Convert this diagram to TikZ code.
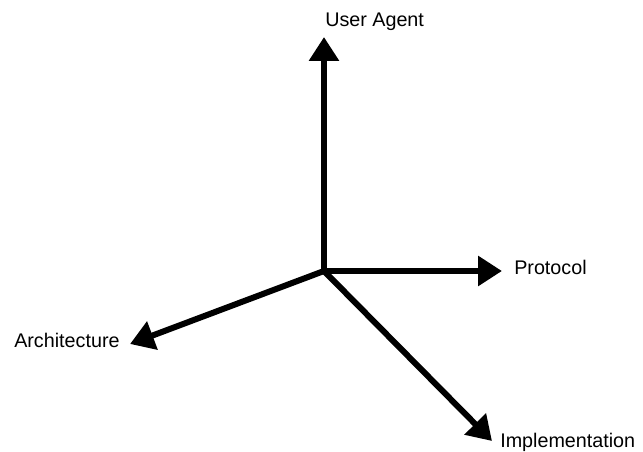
\documentclass[tikz,border=0pt]{standalone}
\usepackage{fontspec}
\setmainfont{Liberation Sans}
\usetikzlibrary{arrows.meta}
\begin{document}
\begin{tikzpicture}[x=0.75pt,y=-0.75pt,
  axis/.style={line width=4.5pt,-{Triangle[length=18pt,width=21.75pt]}},
  lbl/.style={inner sep=0pt,anchor=base west,font=\fontsize{14.8pt}{17pt}\selectfont}]
\useasboundingbox (0,0) rectangle (643,452);
\coordinate (O) at (324,271);
\coordinate (tUA) at (324,37);
\coordinate (tP) at (502,271);
\coordinate (tA) at (130,344);
\coordinate (tI) at (492,441);
\node[lbl] (ua) at (325,27) {User Agent};
\node[lbl] (pr) at (514,275) {Protocol};
\node[lbl] (ar) at (14,348) {Architecture};
\node[lbl] (im) at (500,447) {Implementation};
\draw[axis] (O) -- (tUA);
\draw[axis] (O) -- (tP);
\draw[axis] (O) -- (tA);
\draw[axis] (O) -- (tI);
\end{tikzpicture}
\end{document}
